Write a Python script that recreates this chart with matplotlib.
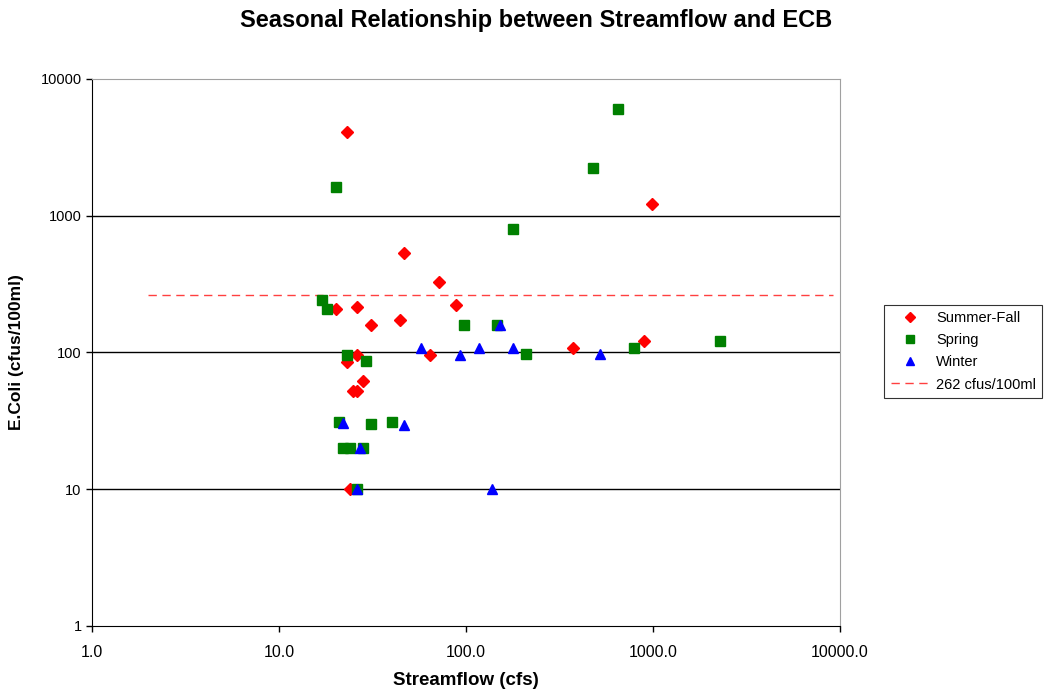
#!/usr/bin/env python3
"""Seasonal relationship between streamflow and E.Coli (log-log scatter)."""

import matplotlib
matplotlib.use("Agg")
import matplotlib.pyplot as plt
from matplotlib.ticker import FixedLocator, FixedFormatter, NullLocator

plt.rcParams["font.family"] = ["Liberation Sans", "DejaVu Sans"]

# streamflow (cfs) / E.Coli (cfus/100ml)
summer_q = [23.2, 46.4, 71.7, 20.2, 26.2, 88.7, 31.2, 44.4, 26.2, 64.4,
            23.2, 28.2, 25.0, 26.2, 24.0, 991, 375, 898]
summer_ec = [4100, 537, 326, 208, 215, 222, 159, 173, 96, 96,
             85, 62, 52, 52, 10, 1220, 108, 122]

spring_q = [20.2, 178, 17.0, 18.1, 98, 146, 23.2, 209, 29.2, 21.0,
            31.2, 40.4, 22.1, 24.0, 28.2, 26.2, 650, 480, 788, 2290]
spring_ec = [1630, 800, 243, 209, 160, 160, 96, 97, 86, 31,
             30, 31, 20, 20, 20, 10, 6000, 2230, 107, 121]

winter_q = [152, 57.5, 93, 117, 178, 22.1, 46.4, 27.2, 26.2, 137, 521]
winter_ec = [160, 107, 95.5, 107, 107, 30.5, 29.5, 20, 10, 10, 97]

limit = 262
limit_q = [2.0, 9200]

x_ticks = [1, 10, 100, 1000, 10000]
x_labels = ["1.0", "10.0", "100.0", "1000.0", "10000.0"]
y_ticks = [1, 10, 100, 1000, 10000]
y_labels = ["1", "10", "100", "1000", "10000"]

fig = plt.figure(figsize=(10.5, 6.91), dpi=100)
ax = fig.add_axes([0.0876, 0.0941, 0.7124, 0.7916])

ax.set_xscale("log")
ax.set_yscale("log")
ax.set_xlim(1, 10000)
ax.set_ylim(1, 10000)

for y in [10, 100, 1000]:
    ax.axhline(y, color="black", lw=1.0, zorder=1)

ax.plot(summer_q, summer_ec, ls="none", marker="D", ms=6, color="#FF0000",
        label="Summer-Fall", zorder=3)
ax.plot(spring_q, spring_ec, ls="none", marker="s", ms=6.5, color="#008000",
        label="Spring", zorder=3)
ax.plot(winter_q, winter_ec, ls="none", marker="^", ms=7.5, color="#0000FF",
        label="Winter", zorder=3)
ax.plot(limit_q, [limit, limit], color="#FF4040", ls=(0, (6, 4)), lw=1,
        label="262 cfus/100ml", zorder=2)

ax.xaxis.set_major_locator(FixedLocator(x_ticks))
ax.xaxis.set_major_formatter(FixedFormatter(x_labels))
ax.yaxis.set_major_locator(FixedLocator(y_ticks))
ax.yaxis.set_major_formatter(FixedFormatter(y_labels))
ax.xaxis.set_minor_locator(NullLocator())
ax.yaxis.set_minor_locator(NullLocator())
ax.tick_params(axis="both", direction="out", length=4, width=1,
               labelsize=10.5, color="black")
ax.tick_params(axis="x", pad=10, labelsize=11.5)

for s in ["top", "right"]:
    ax.spines[s].set_color("#A0A0A0")
for s in ["left", "bottom"]:
    ax.spines[s].set_color("black")

ax.set_xlabel("Streamflow (cfs)", fontsize=13.5, fontweight="bold", labelpad=8)
ax.set_ylabel("E.Coli (cfus/100ml)", fontsize=12.5, fontweight="bold", labelpad=12)
fig.suptitle("Seasonal Relationship between Streamflow and ECB",
             x=0.511, y=0.987, fontsize=17, fontweight="bold")

leg = ax.legend(loc="upper left", bbox_to_anchor=(1.059, 0.587), fontsize=10.5,
                frameon=True, fancybox=False, borderaxespad=0,
                handlelength=2.7, handletextpad=0.4, borderpad=0.45,
                labelspacing=0.55, markerscale=0.85)
leg.get_frame().set_edgecolor("black")
leg.get_frame().set_linewidth(0.8)

fig.savefig("out.png", dpi=100)
